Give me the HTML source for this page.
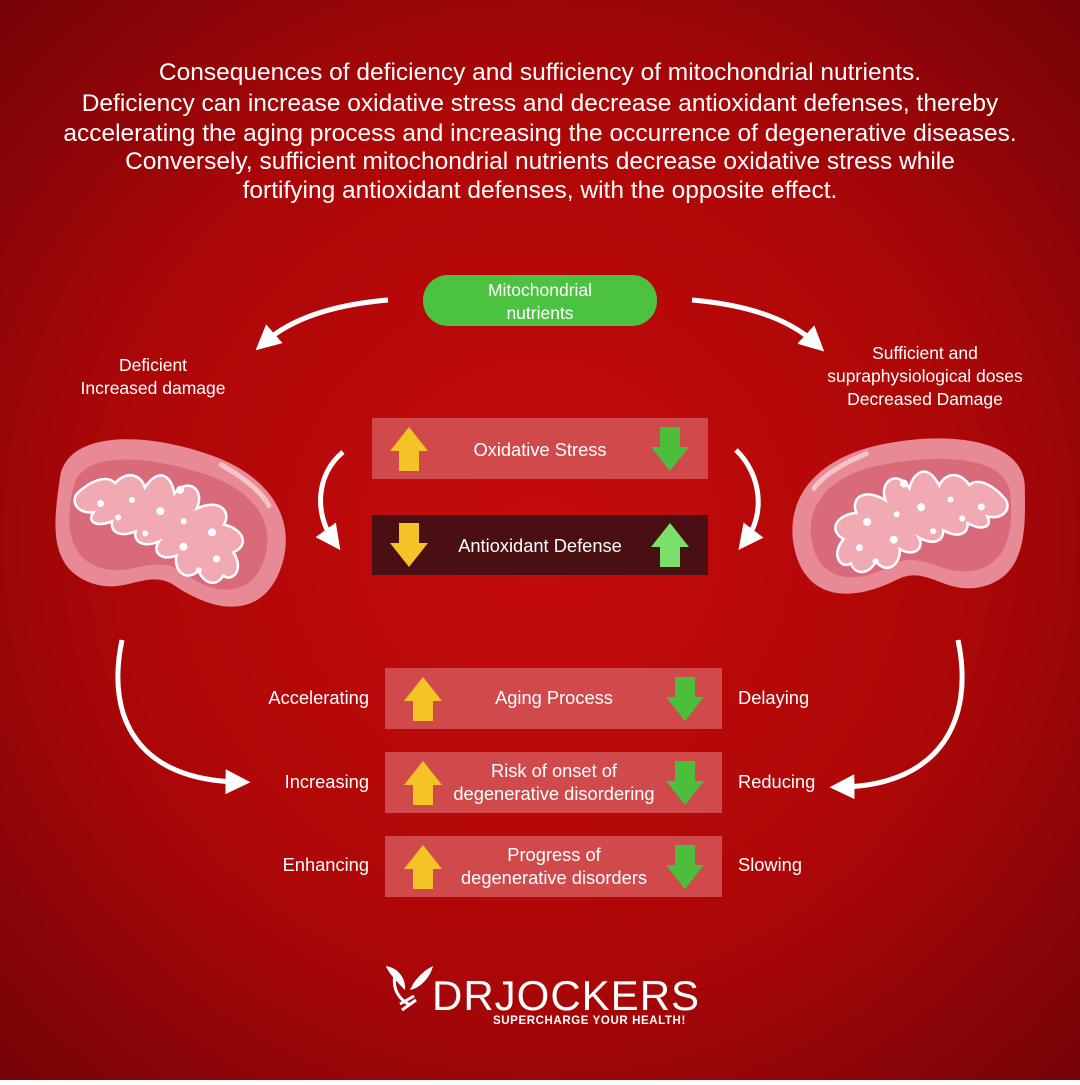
<!DOCTYPE html>
<html><head><meta charset="utf-8"><style>
body{margin:0;width:1080px;height:1080px;overflow:hidden;font-family:"Liberation Sans",sans-serif;}
</style></head><body>
<svg width="1080" height="1080" viewBox="0 0 1080 1080" xmlns="http://www.w3.org/2000/svg" font-family="Liberation Sans, sans-serif">
<defs>
<radialGradient id="bg" cx="0.5" cy="0.5" r="0.72">
<stop offset="0" stop-color="#c60b0b"/><stop offset="0.55" stop-color="#ad0708"/><stop offset="1" stop-color="#720307"/>
</radialGradient>
<marker id="ah" viewBox="0 0 10 10" refX="5" refY="5" markerWidth="5" markerHeight="5" orient="auto">
<path d="M0,0 L10,5 L0,10 Z" fill="#fff"/></marker>
<g id="up"><path d="M-10,22 V2 H-19 L0,-22 L19,2 H10 V22 Z"/></g>
<g id="mito">
<path d="M-115,-20 C-120,-70 -40,-85 30,-75 C100,-65 130,-20 118,30 C108,70 70,80 20,60 C-10,48 -25,78 -60,75 C-110,70 -112,20 -115,-20 Z" fill="#e88a95"/>
<path d="M-100,-15 C-100,-55 -30,-62 30,-55 C85,-48 110,-15 100,25 C92,55 60,62 25,45 C-5,32 -25,60 -55,58 C-95,55 -100,15 -100,-15 Z" fill="#d96a7a"/>
<path d="M-95,-10 C-85,-25 -70,-35 -60,-28 C-50,-45 -35,-40 -30,-30 C-20,-55 -5,-45 0,-30 C10,-50 30,-40 25,-20 C45,-35 60,-25 55,-10 C75,-10 85,5 70,15 C85,30 75,45 65,40 C60,55 45,50 40,40 C30,55 15,45 15,30 C0,40 -10,30 -5,20 C-20,30 -30,25 -30,15 C-45,25 -55,20 -55,10 C-70,20 -80,15 -75,5 C-90,10 -100,0 -95,-10 Z" fill="#f1a9b3" stroke="#fff" stroke-width="2.5"/>
<g fill="#fff"><circle cx="-70" cy="-5" r="3.5"/><circle cx="-40" cy="-15" r="3"/><circle cx="-10" cy="-10" r="4"/><circle cx="15" cy="-5" r="3"/><circle cx="45" cy="0" r="4"/><circle cx="-20" cy="15" r="3"/><circle cx="20" cy="20" r="4"/><circle cx="55" cy="25" r="3.5"/><circle cx="-50" cy="5" r="3"/><circle cx="5" cy="-35" r="4"/><circle cx="40" cy="40" r="3"/></g>
<path d="M40,-68 C65,-60 85,-50 95,-38" stroke="#f5c3ca" stroke-width="5" fill="none" stroke-linecap="round"/>
</g>
</defs>
<rect width="1080" height="1080" fill="url(#bg)"/>
<g fill="#fff" font-size="24.5" text-anchor="middle">
<text x="540" y="80">Consequences of deficiency and sufficiency of mitochondrial nutrients.</text>
<text x="540" y="111">Deficiency can increase oxidative stress and decrease antioxidant defenses, thereby</text>
<text x="540" y="141">accelerating the aging process and increasing the occurrence of degenerative diseases.</text>
<text x="540" y="169">Conversely, sufficient mitochondrial nutrients decrease oxidative stress while</text>
<text x="540" y="198">fortifying antioxidant defenses, with the opposite effect.</text>
</g>
<rect x="423" y="275" width="234" height="51" rx="25" fill="#4cc241"/>
<g fill="#fff" font-size="17.5" text-anchor="middle">
<text x="540" y="296">Mitochondrial</text><text x="540" y="319">nutrients</text>
<text x="153" y="371">Deficient</text><text x="153" y="394">Increased damage</text>
<text x="925" y="359">Sufficient and</text><text x="925" y="382">supraphysiological doses</text><text x="925" y="405">Decreased Damage</text>
</g>
<g stroke="#fff" stroke-width="5" fill="none" marker-end="url(#ah)">
<path d="M388,300 C330,305 290,320 265,342"/>
<path d="M692,300 C750,305 790,320 815,343"/>
<path d="M343,452 C315,475 315,515 333,540"/>
<path d="M736,450 C762,475 765,515 746,540"/>
<path d="M122,640 C105,720 140,780 238,782"/>
<path d="M958,640 C975,720 940,785 842,787"/>
</g>
<g transform="translate(168,523) rotate(12)"><use href="#mito"/></g>
<g transform="translate(912,518) rotate(-5) scale(-1,1)"><use href="#mito"/></g>
<rect x="372" y="418" width="336" height="61" fill="#d04a4c"/>
<rect x="372" y="515" width="336" height="60" fill="#4a0f12"/>
<rect x="385" y="668" width="337" height="61" fill="#d04a4c"/>
<rect x="385" y="752" width="337" height="61" fill="#d04a4c"/>
<rect x="385" y="836" width="337" height="61" fill="#d04a4c"/>
<g fill="#f5c326">
<use href="#up" x="409" y="449"/>
<use href="#up" transform="translate(409,545) scale(1,-1)"/>
<use href="#up" x="423" y="699"/><use href="#up" x="423" y="783"/><use href="#up" x="423" y="867"/>
</g>
<g fill="#4bbf3c">
<use href="#up" transform="translate(670,449) scale(1,-1)"/>
<use href="#up" transform="translate(685,699) scale(1,-1)"/>
<use href="#up" transform="translate(685,783) scale(1,-1)"/>
<use href="#up" transform="translate(685,867) scale(1,-1)"/>
</g>
<use href="#up" x="670" y="545" fill="#7be06a"/>
<g fill="#fff" font-size="18.3" text-anchor="middle">
<text x="540" y="456">Oxidative Stress</text>
<text x="540" y="552">Antioxidant Defense</text>
<text x="554" y="704">Aging Process</text>
<text x="554" y="777">Risk of onset of</text><text x="554" y="800">degenerative disordering</text>
<text x="554" y="861">Progress of</text><text x="554" y="884">degenerative disorders</text>
</g>
<g fill="#fff" font-size="18.3">
<g text-anchor="end"><text x="369" y="704">Accelerating</text><text x="369" y="788">Increasing</text><text x="369" y="871">Enhancing</text></g>
<text x="738" y="704">Delaying</text><text x="738" y="788">Reducing</text><text x="738" y="871">Slowing</text>
</g>
<g fill="#fff">
<path d="M395,975 C392,990 400,1000 410,1005 M402,1010 L416,1000 M400,1004 L414,996" stroke="#fff" stroke-width="3" fill="none"/>
<path d="M405,990 C395,980 388,972 386,966 C398,968 406,978 405,990 Z"/>
<path d="M410,990 C415,978 425,970 433,966 C430,978 420,988 410,990 Z"/>
<text x="432" y="1010" font-size="42" letter-spacing="1">DRJOCKERS</text>
<text x="493" y="1024" font-size="11.5" font-weight="bold" letter-spacing="0.6">SUPERCHARGE YOUR HEALTH!</text>
</g>
</svg>
</body></html>
